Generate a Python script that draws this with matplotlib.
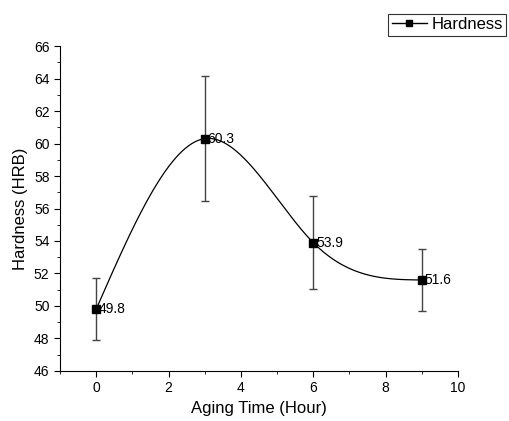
import numpy as np
import matplotlib
matplotlib.use("Agg")
import matplotlib.pyplot as plt
from matplotlib.ticker import MultipleLocator

plt.rcParams['font.family'] = ['Liberation Sans', 'DejaVu Sans']

# Data
aging_time = [0, 3, 6, 9]
hardness = [49.8, 60.3, 53.9, 51.6]
hardness_err = [1.9, 3.85, 2.85, 1.9]
labels = ['49.8', '60.3', '53.9', '51.6']


def natural_spline(x, y, xs):
    x = np.asarray(x, float)
    y = np.asarray(y, float)
    n = len(x)
    h = np.diff(x)
    A = np.zeros((n, n))
    b = np.zeros(n)
    A[0, 0] = 1
    A[-1, -1] = 1
    for i in range(1, n - 1):
        A[i, i - 1] = h[i - 1]
        A[i, i] = 2 * (h[i - 1] + h[i])
        A[i, i + 1] = h[i]
        b[i] = 3 * ((y[i + 1] - y[i]) / h[i] - (y[i] - y[i - 1]) / h[i - 1])
    c = np.linalg.solve(A, b)
    out = np.empty_like(xs)
    for k, xv in enumerate(xs):
        i = min(max(np.searchsorted(x, xv) - 1, 0), n - 2)
        dx = xv - x[i]
        bi = (y[i + 1] - y[i]) / h[i] - h[i] * (2 * c[i] + c[i + 1]) / 3
        di = (c[i + 1] - c[i]) / (3 * h[i])
        out[k] = y[i] + bi * dx + c[i] * dx ** 2 + di * dx ** 3
    return out


fig = plt.figure(figsize=(5.1, 4.21), dpi=100)
ax = fig.add_axes([0.1176, 0.1188, 0.7804, 0.7719])

xs = np.linspace(aging_time[0], aging_time[-1], 300)
ax.plot(xs, natural_spline(aging_time, hardness, xs), color='black', lw=0.9)
ax.errorbar(aging_time, hardness, yerr=hardness_err, fmt='none',
            ecolor='#444444', elinewidth=1.0, capsize=3, capthick=1.0)
ax.plot(aging_time, hardness, 's', color='black', ms=6)

for x, y, t in zip(aging_time, hardness, labels):
    ax.text(x + 0.08, y, t, fontsize=10, va='center', ha='left')

# legend handle
ax.plot([], [], '-s', color='black', ms=5, lw=1, label='Hardness')
leg = fig.legend(loc='upper right', bbox_to_anchor=(0.993, 0.967),
                 frameon=True, fancybox=False, fontsize=12,
                 handlelength=2.1, handletextpad=0.3, borderpad=0.2,
                 borderaxespad=0)
leg.get_frame().set_edgecolor('black')
leg.get_frame().set_linewidth(0.8)

ax.set_xlim(-1, 10)
ax.set_ylim(46, 66)
ax.xaxis.set_major_locator(MultipleLocator(2))
ax.xaxis.set_minor_locator(MultipleLocator(1))
ax.yaxis.set_major_locator(MultipleLocator(2))
ax.yaxis.set_minor_locator(MultipleLocator(1))
ax.spines['top'].set_visible(False)
ax.spines['right'].set_visible(False)
ax.tick_params(which='major', direction='out', length=4, labelsize=10)
ax.tick_params(which='minor', direction='out', length=2)
ax.set_xlabel('Aging Time (Hour)', fontsize=12)
ax.set_ylabel('Hardness (HRB)', fontsize=12)

plt.savefig('out.png', dpi=100)
